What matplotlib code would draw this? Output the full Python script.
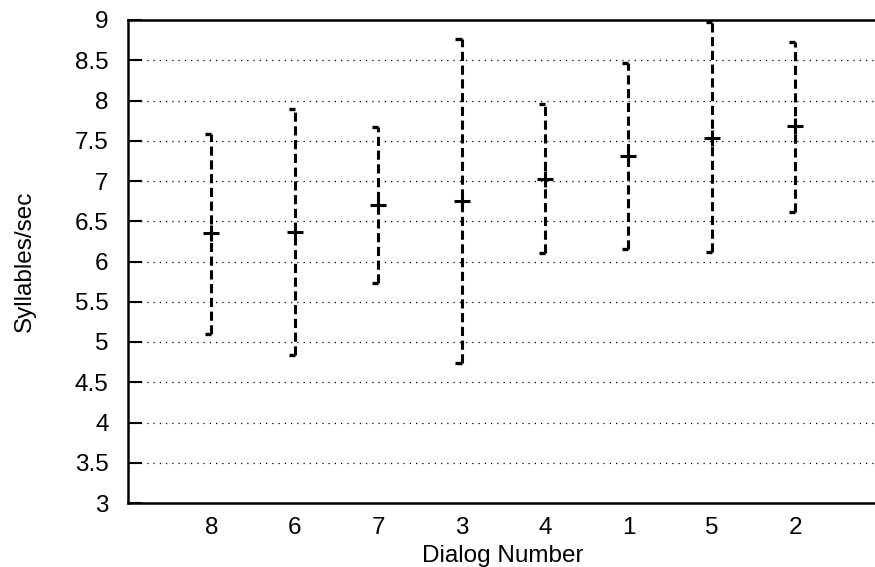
import numpy as np
import matplotlib
matplotlib.use('Agg')
import matplotlib.pyplot as plt

# Dialog order as shown on the x axis
dialogs = ['8', '6', '7', '3', '4', '1', '5', '2']
means = [6.35, 6.37, 6.70, 6.75, 7.03, 7.31, 7.54, 7.68]
upper = [7.58, 7.89, 7.67, 8.77, 7.96, 8.47, 8.97, 8.73]
lower = [5.10, 4.84, 5.73, 4.74, 6.11, 6.15, 6.12, 6.62]
yticks = [3, 3.5, 4, 4.5, 5, 5.5, 6, 6.5, 7, 7.5, 8, 8.5, 9]

plt.rcParams['font.family'] = ['Liberation Sans', 'DejaVu Sans']
FS = 17.5

fig = plt.figure(figsize=(8.75, 5.67), dpi=100)
W, H = 875, 567
# plot area runs past the right edge of the image (right border is cut off)
px_per_unit = 83.4
right_px = 900
ax = fig.add_axes([128 / W, (H - 503) / H, (right_px - 128) / W, 483 / H])

x = np.arange(1, len(dialogs) + 1)

# Dashed error bars with half caps (gnuplot look)
ax.vlines(x, lower, upper, colors='black', linewidth=2.2,
          linestyles=(0, (3, 1.5)), zorder=3)
cap = 0.075
ax.hlines(upper, x - cap, x, colors='black', linewidth=2.4, zorder=3)
ax.hlines(lower, x - cap, x, colors='black', linewidth=2.4, zorder=3)
ax.plot(x, means, linestyle='none', marker='+', markersize=12,
        markeredgewidth=2.2, color='black', zorder=4)

ax.set_xlim(0, (right_px - 128) / px_per_unit)
ax.set_ylim(3, 9)
ax.set_xticks(x)
ax.set_xticklabels(dialogs)
ax.set_yticks(yticks)
ax.set_yticklabels(['%g' % v for v in yticks])

ax.tick_params(axis='x', length=0, pad=10, labelsize=FS)
ax.tick_params(axis='y', direction='in', length=10, width=1.5,
               pad=14, labelsize=FS)

ax.yaxis.grid(True, linestyle=(0, (1, 4)), linewidth=0.9, color='black')
ax.set_axisbelow(True)

for s in ['left', 'bottom', 'top']:
    ax.spines[s].set_linewidth(1.8)
ax.spines['right'].set_visible(False)

ax.set_xlabel('Dialog Number', fontsize=FS)
ax.xaxis.set_label_coords((503 - 128) / (right_px - 128), -0.086)
ax.set_ylabel('Syllables/sec', fontsize=FS, labelpad=28)

fig.savefig('out.png', dpi=100)
